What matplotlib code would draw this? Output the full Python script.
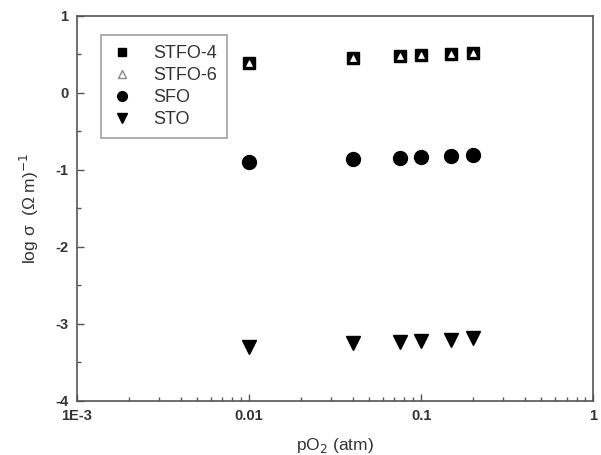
import copy
import numpy as np
import matplotlib.pyplot as plt
from matplotlib.ticker import FixedLocator, LogLocator, NullFormatter

plt.rcParams['font.family'] = ['Liberation Sans', 'DejaVu Sans']

# oxygen partial pressure (atm)
po2 = [0.01, 0.04, 0.075, 0.1, 0.15, 0.2]

# log conductivity
stfo4 = [0.39, 0.45, 0.48, 0.49, 0.51, 0.52]
stfo6 = [0.39, 0.45, 0.48, 0.49, 0.51, 0.52]
sfo = [-0.90, -0.86, -0.84, -0.83, -0.82, -0.81]
sto = [-3.30, -3.25, -3.23, -3.22, -3.21, -3.19]

TXT = '#333333'
AX = '#555555'

fig = plt.figure(figsize=(6.01, 4.55), dpi=100)
ax = fig.add_axes([0.128, 0.119, 0.859, 0.846])

ax.plot(po2, stfo4, 's', color='black', ms=8.5, label='STFO-4')
ax.plot(po2, stfo6, '^', mfc='white', mec='white', ms=4.5, mew=0.5, label='STFO-6')
ax.plot(po2, sfo, 'o', color='black', ms=10, label='SFO')
ax.plot(po2, sto, 'v', color='black', ms=10.5, label='STO')

ax.set_xscale('log')
ax.set_xlim(1e-3, 1)
ax.set_ylim(-4, 1)
ax.set_xticks([1e-3, 0.01, 0.1, 1])
ax.set_xticklabels(['1E-3', '0.01', '0.1', '1'])
ax.xaxis.set_minor_locator(LogLocator(base=10, subs=np.arange(2, 10)))
ax.xaxis.set_minor_formatter(NullFormatter())
ax.set_yticks([-4, -3, -2, -1, 0, 1])
ax.set_yticklabels(['-4', '-3', '-2', '-1', '0', '1'])
ax.yaxis.set_minor_locator(FixedLocator(np.arange(-3.5, 1, 1.0)))

ax.tick_params(which='both', direction='in', top=False, right=False,
               colors=AX, labelcolor=TXT)
ax.tick_params(which='major', length=5, width=1, labelsize=10.5, pad=6)
ax.tick_params(which='minor', length=3, width=1)
for lab in ax.get_xticklabels() + ax.get_yticklabels():
    lab.set_fontweight('bold')
for s in ax.spines.values():
    s.set_color(AX)
    s.set_linewidth(1.2)

ax.set_xlabel('pO$_2$ (atm)', fontsize=12.5, color=TXT, labelpad=9)
ax.set_ylabel('log \u03c3  (\u03a9 m)$^{-1}$', fontsize=12.5, color=TXT, labelpad=10)

# legend: triangle shown as an open gray marker
h, l = ax.get_legend_handles_labels()
h6 = copy.copy(h[1])
h6.set_markerfacecolor('white')
h6.set_markeredgecolor('#888888')
h6.set_markersize(9)
h6.set_markeredgewidth(1)
leg = ax.legend([h[0], h6, h[2], h[3]], l, loc='upper left',
                bbox_to_anchor=(0.03, 0.973), fontsize=13, markerscale=0.7,
                frameon=True, fancybox=False, handlelength=1.2,
                handletextpad=1.1, borderpad=0.55, labelspacing=0.28,
                edgecolor='#888888')
leg.get_frame().set_linewidth(1.2)
for t in leg.get_texts():
    t.set_color(TXT)

fig.savefig('out.png', dpi=100)
